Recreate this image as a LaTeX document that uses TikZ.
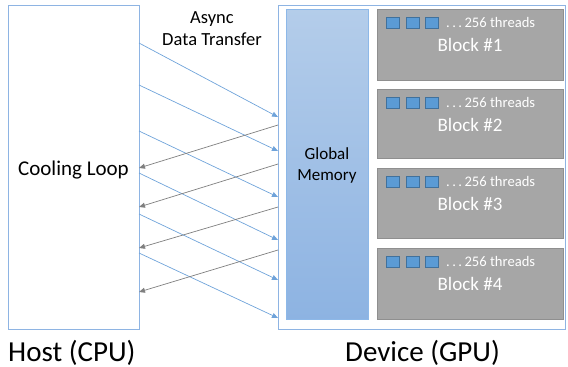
\documentclass[tikz,border=0pt]{standalone}
\usepackage{fontspec}
\setmainfont{Carlito}
\usetikzlibrary{arrows.meta}
\definecolor{hostborder}{HTML}{8EB4E3}
\definecolor{blueline}{HTML}{6FA3DA}
\definecolor{grayline}{HTML}{7F7F7F}
\definecolor{gmtop}{HTML}{B4CDEA}
\definecolor{gmbot}{HTML}{8DB3E2}
\definecolor{gmborder}{HTML}{8DB8E8}
\definecolor{blockfill}{HTML}{A6A6A6}
\definecolor{blockborder}{HTML}{8F8F8F}
\definecolor{thread}{HTML}{5B9BD5}
\definecolor{threadborder}{HTML}{41719C}
\tikzset{
  frame/.style={draw=hostborder, line width=0.9pt, fill=white},
  blockbox/.style={draw=blockborder, fill=blockfill, line width=0.8pt},
  threadbox/.style={draw=threadborder, fill=thread, line width=0.6pt},
  toDev/.style={draw=blueline, line width=0.7pt, -{Triangle[length=6pt,width=5pt]}},
  toHost/.style={draw=grayline, line width=0.7pt, -{Triangle[length=6pt,width=5pt]}},
  blocklbl/.style={text=white, font=\fontsize{19}{21}\selectfont, anchor=base},
  thrlbl/.style={text=white, font=\fontsize{14.6}{16}\selectfont, anchor=base west, inner sep=0pt},
}
\begin{document}
\begin{tikzpicture}[x=1pt,y=-1pt]
\useasboundingbox (0,0) rectangle (568,367);
% host
\draw[frame] (8,5) rectangle (139,329);
\node[font=\fontsize{21}{24}\selectfont, anchor=base] (cool) at (73.5,175) {Cooling Loop};
\node[font=\fontsize{29}{32}\selectfont, anchor=base west, inner sep=0pt] (host) at (8,361) {Host (CPU)};
% device
\draw[frame] (278,5) rectangle (565,329);
\shade[top color=gmtop, bottom color=gmbot] (286,9) rectangle (368,319);
\draw[draw=gmborder, line width=0.8pt] (286,9) rectangle (368,319);
\node[font=\fontsize{17}{20}\selectfont, anchor=base, align=center] (gm) at (327,159) {Global};
\node[font=\fontsize{17}{20}\selectfont, anchor=base] (gm2) at (327,180) {Memory};
\node[font=\fontsize{29}{32}\selectfont, anchor=base west, inner sep=0pt] (dev) at (345,361) {Device (GPU)};
% blocks
\foreach \t/\b/\n in {9/80/1, 89/158/2, 168/238/3, 248/319/4}{
  \draw[blockbox] (377,\t) rectangle (563,\b);
  \foreach \x in {386,406,425}{
    \draw[threadbox] (\x,\t+8.5) rectangle (\x+13,\t+19.5);
  }
  \node[thrlbl] at (446,\t+18.5) {.\,.\,.\,256 threads};
  \node[blocklbl] at (470,\t+42) {Block \#\n};
}
% async label
\node[font=\fontsize{18.5}{21}\selectfont, anchor=base] (as1) at (212,23) {Async};
\node[font=\fontsize{18.5}{21}\selectfont, anchor=base] (as2) at (212,45) {Data Transfer};
% connectors
\foreach \a/\b in {43/117, 85/151, 131/197, 173/240, 214/280, 253/318}{
  \coordinate (s) at (139,\a);
  \coordinate (e) at (278,\b);
  \draw[toDev] (s) -- (e);
}
\foreach \a/\b in {125/168, 164/207, 207/248, 250/292}{
  \coordinate (s) at (278,\a);
  \coordinate (e) at (139,\b);
  \draw[toHost] (s) -- (e);
}
\end{tikzpicture}
\end{document}
